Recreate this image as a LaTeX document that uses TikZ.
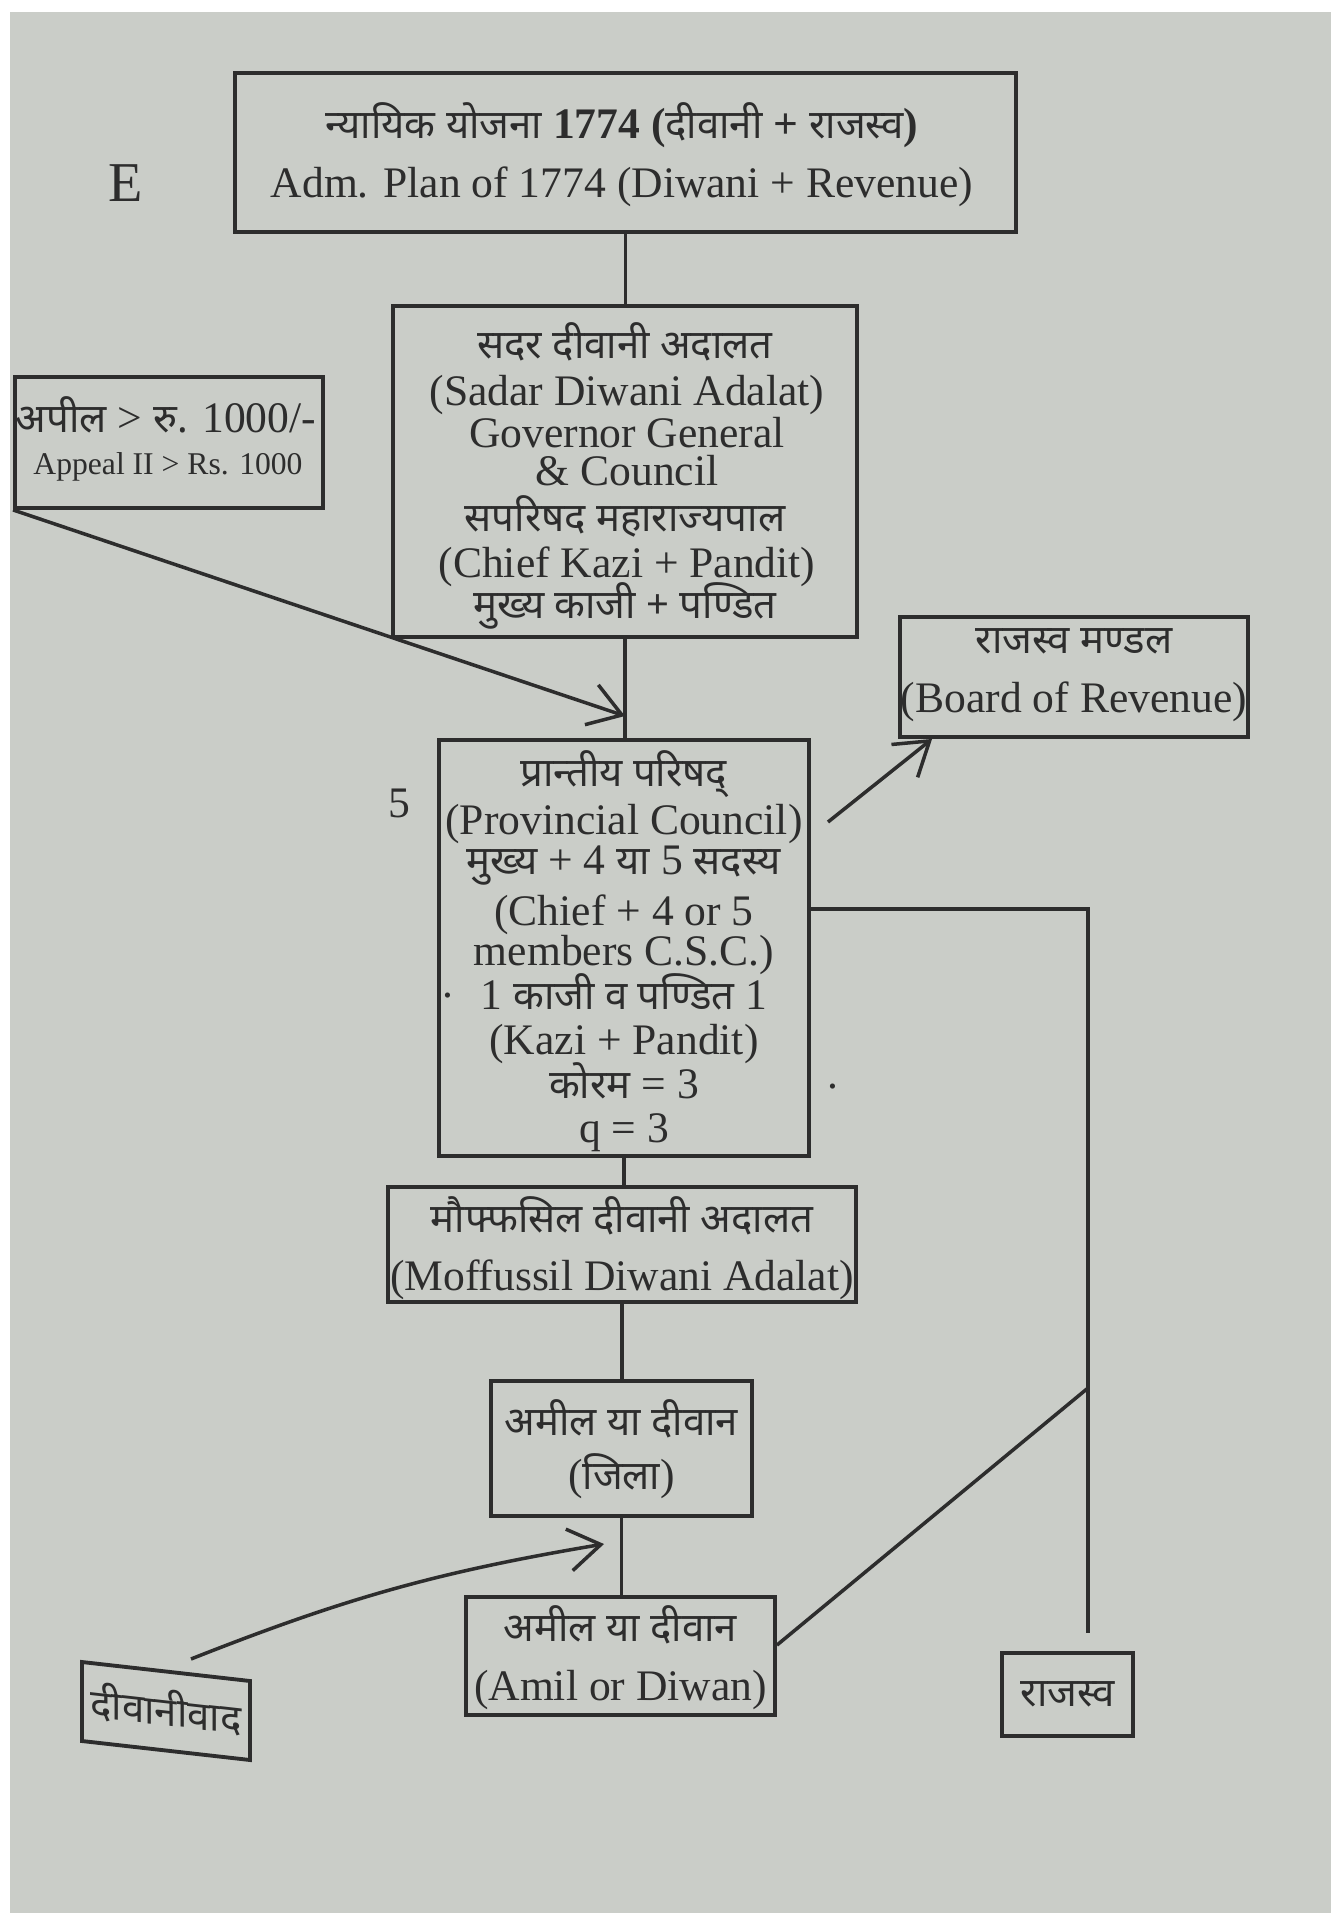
\documentclass[tikz,border=0pt]{standalone}
\usepackage{fontspec}
\setmainfont{Liberation Serif}
\newfontfamily\dev[Script=Devanagari,Scale=0.92]{Noto Sans}
\usetikzlibrary{arrows.meta,calc}
\definecolor{paper}{RGB}{202,205,200}
\definecolor{ink}{RGB}{45,45,45}
\newcommand{\hin}[1]{{\dev #1}}
\begin{document}
\begin{tikzpicture}[x=1cm,y=-1cm,
  box/.style={draw=ink, line width=1.1pt, inner sep=0pt},
  t/.style={text=ink, inner sep=0pt, font=\fontsize{12.4}{14}\selectfont},
  ts/.style={text=ink, inner sep=0pt, font=\fontsize{9}{11}\selectfont},
  conn/.style={draw=ink, line width=1pt},
  arr/.style={conn, -{Straight Barb[length=3.2mm,width=4.2mm,line width=1pt]}}]
\useasboundingbox (0,0) rectangle (13.31,19.13);
\fill[white] (0,0) rectangle (13.31,19.13);
\fill[paper] (0.10,0.12) rectangle (13.31,19.13);

% boxes
\node[box, minimum width=7.81cm, minimum height=1.59cm] (plan) at (6.255,1.525) {};
\node[box, minimum width=4.64cm, minimum height=3.31cm] (sadar) at (6.25,4.715) {};
\node[box, minimum width=3.08cm, minimum height=1.31cm] (appeal) at (1.69,4.425) {};
\node[box, minimum width=3.48cm, minimum height=1.20cm] (board) at (10.74,6.77) {};
\node[box, minimum width=3.70cm, minimum height=4.16cm] (prov) at (6.24,9.48) {};
\node[box, minimum width=4.68cm, minimum height=1.15cm] (moff) at (6.22,12.445) {};
\node[box, minimum width=2.61cm, minimum height=1.35cm] (zila) at (6.215,14.485) {};
\node[box, minimum width=3.09cm, minimum height=1.18cm] (amil) at (6.205,16.56) {};
\node[box, minimum width=1.31cm, minimum height=0.83cm] (rajasva) at (10.675,16.945) {};
\begin{scope}[shift={(1.66,17.11)}, yslant=-0.113]
\node[box, transform shape, minimum width=1.68cm, minimum height=0.79cm] (diwanivad) at (0,0) {};
\node[t, transform shape] (diwanivad-t) at (0,-0.02) {\hin{दीवानीवाद}};
\end{scope}

% texts
\node[text=ink, inner sep=0pt, font=\fontsize{16}{18}\selectfont] (E) at (1.26,1.83) {E};
\node[t, font=\fontsize{12.4}{14}\selectfont\bfseries] (plan-1) at (6.22,1.25) {\hin{न्यायिक योजना} 1774 (\hin{दीवानी} + \hin{राजस्व})};
\node[t] (plan-2) at (6.22,1.87) {Adm. Plan of 1774 (Diwani + Revenue)};

\node[t] (sadar-1) at (6.25,3.42) {\hin{सदर दीवानी अदालत}};
\node[t] (sadar-2) at (6.27,3.95) {(Sadar Diwani Adalat)};
\node[t] (sadar-3) at (6.27,4.33) {Governor General};
\node[t] (sadar-4) at (6.27,4.71) {\& Council};
\node[t] (sadar-5) at (6.25,5.16) {\hin{सपरिषद महाराज्यपाल}};
\node[t] (sadar-6) at (6.27,5.67) {(Chief Kazi + Pandit)};
\node[t] (sadar-7) at (6.25,6.06) {\hin{मुख्य काजी + पण्डित}};

\node[t] (appeal-1) at (1.66,4.15) {\hin{अपील} > \hin{रु.} 1000/-};
\node[ts] (appeal-2) at (1.68,4.67) {Appeal II > Rs. 1000};

\node[t] (board-1) at (10.74,6.41) {\hin{राजस्व मण्डल}};
\node[t] (board-2) at (10.74,7.02) {(Board of Revenue)};

\node[t] (five) at (3.99,8.03) {5};
\node[t] (prov-1) at (6.24,7.74) {\hin{प्रान्तीय परिषद्}};
\node[t] (prov-2) at (6.24,8.24) {(Provincial Council)};
\node[t] (prov-3) at (6.24,8.66) {\hin{मुख्य} + 4 \hin{या} 5 \hin{सदस्य}};
\node[t] (prov-4) at (6.24,9.15) {(Chief + 4 or 5};
\node[t] (prov-5) at (6.24,9.55) {members C.S.C.)};
\node[t] (prov-6) at (6.24,9.92) {1 \hin{काजी व पण्डित} 1};
\node[t] (prov-7) at (6.24,10.44) {(Kazi + Pandit)};
\node[t] (prov-8) at (6.24,10.81) {\hin{कोरम} = 3};
\node[t] (prov-9) at (6.24,11.33) {q = 3};
\node[t] (dot-1) at (4.48,9.96) {.};
\node[t] (dot-2) at (8.33,10.87) {.};

\node[t] (moff-1) at (6.22,12.16) {\hin{मौफ्फसिल दीवानी अदालत}};
\node[t] (moff-2) at (6.22,12.80) {(Moffussil Diwani Adalat)};

\node[t] (zila-1) at (6.215,14.19) {\hin{अमील या दीवान}};
\node[t] (zila-2) at (6.215,14.76) {(\hin{जिला})};

\node[t] (amil-1) at (6.205,16.25) {\hin{अमील या दीवान}};
\node[t] (amil-2) at (6.205,16.90) {(Amil or Diwan)};

\node[t] (rajasva-t) at (10.68,16.94) {\hin{राजस्व}};

% connectors
\draw[conn] (plan.south) -- (plan.south |- sadar.north);
\draw[conn] (sadar.south) -- (sadar.south |- prov.north);
\draw[conn] (prov.south) -- (prov.south |- moff.north);
\draw[conn] (moff.south) -- (moff.south |- zila.north);
\draw[conn] (zila.south) -- (zila.south |- amil.north);

\coordinate (aptip) at (6.25,7.16);
\draw[arr] (appeal.south west) -- (aptip);

\coordinate (bdstart) at (8.28,8.22);
\coordinate (bdtip) at ($(board.south west)+(0.34,0)$);
\draw[arr] (bdstart) -- (bdtip);

\coordinate (rvtop) at (10.88,9.09);
\coordinate (rvjoin) at (10.88,13.88);
\coordinate (rvend) at (10.88,16.33);
\draw[conn] (prov.east |- rvtop) -- (rvtop) -- (rvjoin) -- (rvend);
\draw[conn] ($(amil.north east)+(0,0.50)$) -- (rvjoin);

\coordinate (dvstart) at (1.91,16.59);
\coordinate (dvtip) at (6.04,15.44);
\draw[arr] (dvstart) to[bend left=6] (dvtip);
\end{tikzpicture}
\end{document}
